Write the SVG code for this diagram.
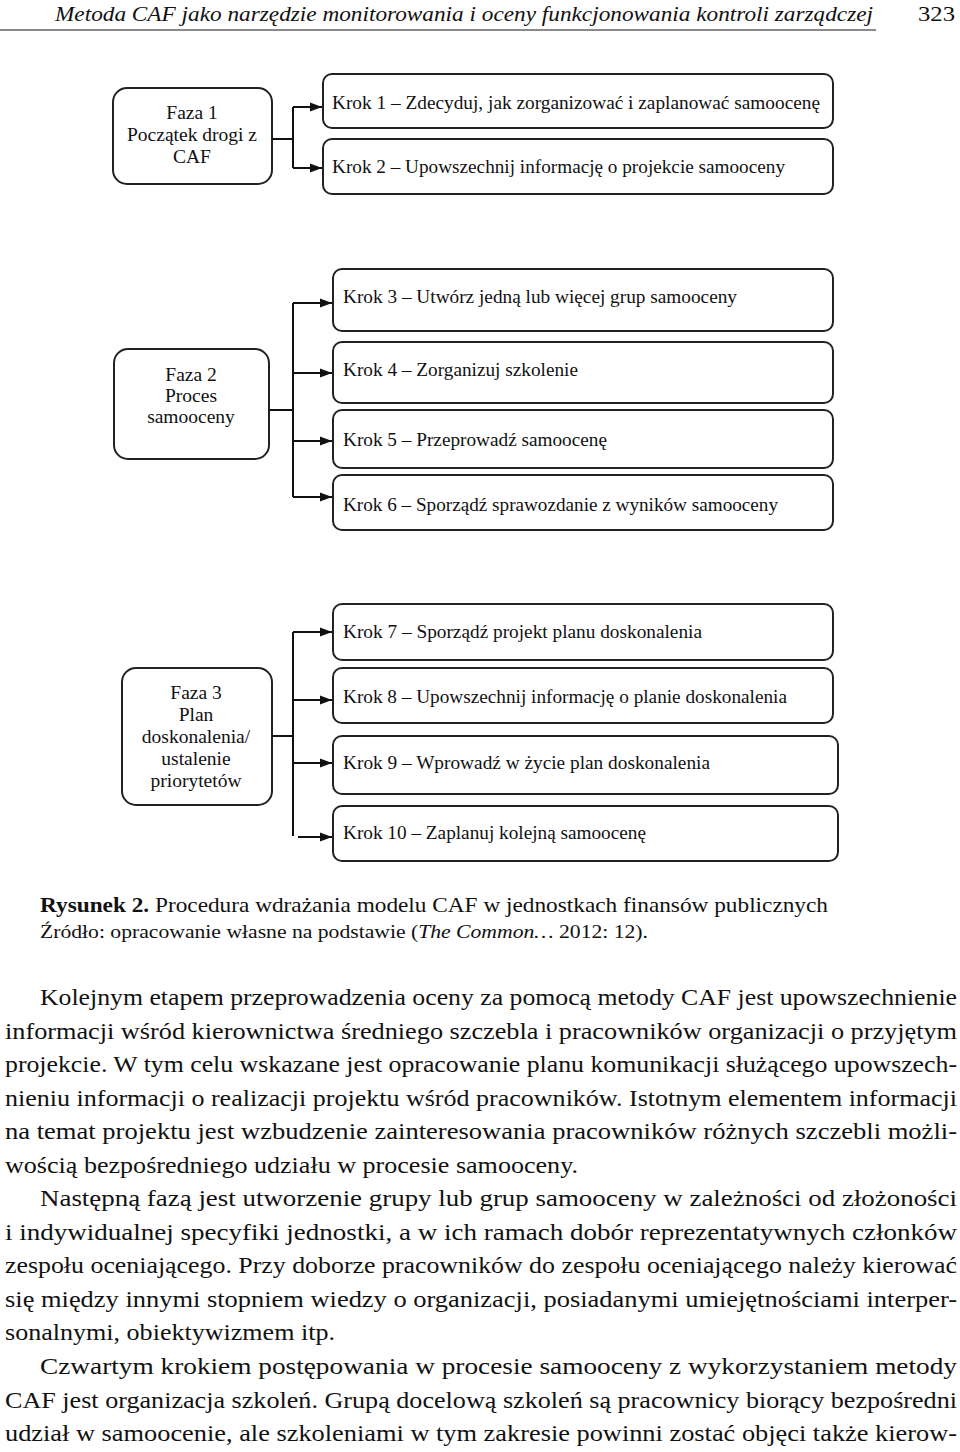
<svg xmlns="http://www.w3.org/2000/svg" width="960" height="1452" viewBox="0 0 960 1452">
<defs>
<marker id="ah" viewBox="0 0 12 10" refX="12" refY="5" markerWidth="12" markerHeight="10" markerUnits="userSpaceOnUse" orient="auto">
<path d="M0,0.5 L12,5 L0,9.5 Z" fill="#111"/>
</marker>
<style>
.t{font-family:"Liberation Serif","Times New Roman",serif;fill:#111}
.bx{font-size:18px}
.fz{font-size:19.5px;text-anchor:middle}
.body{font-size:23.5px}
.phase{fill:#fff;stroke:#222;stroke-width:2}
.step{fill:#fff;stroke:#222;stroke-width:2}
.con{fill:none;stroke:#111;stroke-width:2}
</style>
</defs>
<rect width="960" height="1452" fill="#fff"/>

<!-- header -->
<text class="t" x="55" y="21" font-size="21" font-style="italic" textLength="818" lengthAdjust="spacingAndGlyphs">Metoda CAF jako narzędzie monitorowania i oceny funkcjonowania kontroli zarządczej</text>
<text class="t" x="918" y="21" font-size="21" textLength="37" lengthAdjust="spacingAndGlyphs">323</text>
<line x1="0" y1="30" x2="876" y2="30" stroke="#8a8a8a" stroke-width="2"/>

<!-- phase nodes -->
<g id="faza1">
<rect class="phase" x="113" y="88" width="159" height="96" rx="14"/>
<text class="t fz" x="192" y="119">Faza 1</text>
<text class="t fz" x="192" y="141">Początek drogi z</text>
<text class="t fz" x="192" y="163">CAF</text>
</g>
<g id="faza2">
<rect class="phase" x="114" y="349" width="155" height="110" rx="14"/>
<text class="t fz" x="191" y="381">Faza 2</text>
<text class="t fz" x="191" y="402">Proces</text>
<text class="t fz" x="191" y="423">samooceny</text>
</g>
<g id="faza3">
<rect class="phase" x="122" y="668" width="150" height="137" rx="14"/>
<text class="t fz" x="196" y="699">Faza 3</text>
<text class="t fz" x="196" y="721">Plan</text>
<text class="t fz" x="196" y="743">doskonalenia/</text>
<text class="t fz" x="196" y="765">ustalenie</text>
<text class="t fz" x="196" y="787">priorytetów</text>
</g>

<!-- step nodes -->
<g id="krok1"><rect class="step" x="323" y="74" width="510" height="54" rx="9"/>
<text class="t bx" x="332" y="109" textLength="488" lengthAdjust="spacingAndGlyphs">Krok 1 – Zdecyduj, jak zorganizować i zaplanować samoocenę</text></g>
<g id="krok2"><rect class="step" x="323" y="139" width="510" height="55" rx="9"/>
<text class="t bx" x="332" y="173" textLength="453" lengthAdjust="spacingAndGlyphs">Krok 2 – Upowszechnij informację o projekcie samooceny</text></g>
<g id="krok3"><rect class="step" x="333" y="269" width="500" height="62" rx="9"/>
<text class="t bx" x="343" y="303" textLength="394" lengthAdjust="spacingAndGlyphs">Krok 3 – Utwórz jedną lub więcej grup samooceny</text></g>
<g id="krok4"><rect class="step" x="333" y="342" width="500" height="61" rx="9"/>
<text class="t bx" x="343" y="376" textLength="235" lengthAdjust="spacingAndGlyphs">Krok 4 – Zorganizuj szkolenie</text></g>
<g id="krok5"><rect class="step" x="333" y="410" width="500" height="58" rx="9"/>
<text class="t bx" x="343" y="446" textLength="264" lengthAdjust="spacingAndGlyphs">Krok 5 – Przeprowadź samoocenę</text></g>
<g id="krok6"><rect class="step" x="333" y="475" width="500" height="55" rx="9"/>
<text class="t bx" x="343" y="511" textLength="435" lengthAdjust="spacingAndGlyphs">Krok 6 – Sporządź sprawozdanie z wyników samooceny</text></g>
<g id="krok7"><rect class="step" x="333" y="604" width="500" height="56" rx="9"/>
<text class="t bx" x="343" y="638" textLength="359" lengthAdjust="spacingAndGlyphs">Krok 7 – Sporządź projekt planu doskonalenia</text></g>
<g id="krok8"><rect class="step" x="333" y="668" width="500" height="55" rx="9"/>
<text class="t bx" x="343" y="703" textLength="444" lengthAdjust="spacingAndGlyphs">Krok 8 – Upowszechnij informację o planie doskonalenia</text></g>
<g id="krok9"><rect class="step" x="333" y="736" width="505" height="58" rx="9"/>
<text class="t bx" x="343" y="769" textLength="367" lengthAdjust="spacingAndGlyphs">Krok 9 – Wprowadź w życie plan doskonalenia</text></g>
<g id="krok10"><rect class="step" x="333" y="806" width="505" height="55" rx="9"/>
<text class="t bx" x="343" y="839" textLength="303" lengthAdjust="spacingAndGlyphs">Krok 10 – Zaplanuj kolejną samoocenę</text></g>

<!-- connectors -->
<g id="connectors">
<path class="con" d="M272,139 H293 M293,107 V168"/>
<path class="con" d="M293,107 H322" marker-end="url(#ah)"/>
<path class="con" d="M293,168 H322" marker-end="url(#ah)"/>

<path class="con" d="M269,410 H293 M293,303 V497"/>
<path class="con" d="M293,303 H332" marker-end="url(#ah)"/>
<path class="con" d="M293,373 H332" marker-end="url(#ah)"/>
<path class="con" d="M293,441 H332" marker-end="url(#ah)"/>
<path class="con" d="M293,497 H332" marker-end="url(#ah)"/>

<path class="con" d="M272,736 H293 M293,632 V836"/>
<path class="con" d="M293,632 H332" marker-end="url(#ah)"/>
<path class="con" d="M293,700 H332" marker-end="url(#ah)"/>
<path class="con" d="M293,763 H332" marker-end="url(#ah)"/>
<path class="con" d="M298,837 H332" marker-end="url(#ah)"/>
</g>

<!-- caption -->
<text class="t" x="40" y="912" font-size="21" textLength="788" lengthAdjust="spacingAndGlyphs"><tspan font-weight="bold">Rysunek 2.</tspan> Procedura wdrażania modelu CAF w jednostkach finansów publicznych</text>
<text class="t" x="40" y="938" font-size="18" textLength="608" lengthAdjust="spacingAndGlyphs">Źródło: opracowanie własne na podstawie (<tspan font-style="italic">The Common…</tspan> 2012: 12).</text>

<!-- body text -->
<g class="t body">
<text x="40" y="1005" textLength="917" lengthAdjust="spacingAndGlyphs">Kolejnym etapem przeprowadzenia oceny za pomocą metody CAF jest upowszechnienie</text>
<text x="5" y="1039" textLength="952" lengthAdjust="spacingAndGlyphs">informacji wśród kierownictwa średniego szczebla i pracowników organizacji o przyjętym</text>
<text x="5" y="1072" textLength="952" lengthAdjust="spacingAndGlyphs">projekcie. W tym celu wskazane jest opracowanie planu komunikacji służącego upowszech-</text>
<text x="5" y="1106" textLength="952" lengthAdjust="spacingAndGlyphs">nieniu informacji o realizacji projektu wśród pracowników. Istotnym elementem informacji</text>
<text x="5" y="1139" textLength="952" lengthAdjust="spacingAndGlyphs">na temat projektu jest wzbudzenie zainteresowania pracowników różnych szczebli możli-</text>
<text x="5" y="1173" textLength="573" lengthAdjust="spacingAndGlyphs">wością bezpośredniego udziału w procesie samooceny.</text>
<text x="40" y="1206" textLength="917" lengthAdjust="spacingAndGlyphs">Następną fazą jest utworzenie grupy lub grup samooceny w zależności od złożoności</text>
<text x="5" y="1240" textLength="952" lengthAdjust="spacingAndGlyphs">i indywidualnej specyfiki jednostki, a w ich ramach dobór reprezentatywnych członków</text>
<text x="5" y="1273" textLength="952" lengthAdjust="spacingAndGlyphs">zespołu oceniającego. Przy doborze pracowników do zespołu oceniającego należy kierować</text>
<text x="5" y="1307" textLength="952" lengthAdjust="spacingAndGlyphs">się między innymi stopniem wiedzy o organizacji, posiadanymi umiejętnościami interper-</text>
<text x="5" y="1340" textLength="330" lengthAdjust="spacingAndGlyphs">sonalnymi, obiektywizmem itp.</text>
<text x="40" y="1374" textLength="917" lengthAdjust="spacingAndGlyphs">Czwartym krokiem postępowania w procesie samooceny z wykorzystaniem metody</text>
<text x="5" y="1408" textLength="952" lengthAdjust="spacingAndGlyphs">CAF jest organizacja szkoleń. Grupą docelową szkoleń są pracownicy biorący bezpośredni</text>
<text x="5" y="1441" textLength="952" lengthAdjust="spacingAndGlyphs">udział w samoocenie, ale szkoleniami w tym zakresie powinni zostać objęci także kierow-</text>
</g>
</svg>
